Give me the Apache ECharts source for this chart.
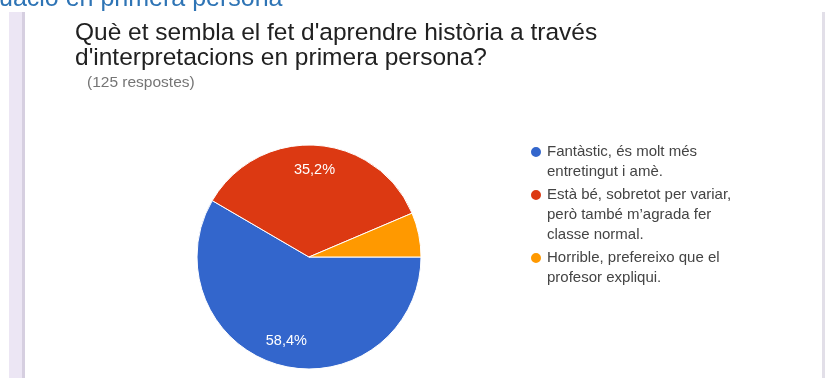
<!DOCTYPE html>
<html>
<head>
<meta charset="utf-8">
<script src="https://cdn.jsdelivr.net/npm/echarts@6/dist/echarts.min.js"></script>
<style>
  html, body { margin: 0; padding: 0; background: #fff; }
  #chart { width: 826px; height: 378px; }
</style>
</head>
<body>
<div id="chart"></div>
<script>
// respostes (125 en total)
const categories = [
  'Fantàstic, és molt més\nentretingut i amè.',
  'Està bé, sobretot per variar,\nperò també m\u2019agrada fer\nclasse normal.',
  'Horrible, prefereixo que el\nprofesor expliqui.'
]
const counts = [73, 44, 8]
const colors = ['#3366cc', '#dc3912', '#ff9900']

const pieData = categories.map((name, i) => ({ value: counts[i], name: name }))

// one legend per answer: leading blank lines keep the dot level with the first text line
const LINE_H = 20
const legends = []
let lineTop = 142
categories.forEach(name => {
  const n = name.split('\n').length
  legends.push({
    orient: 'vertical',
    left: 529,
    top: lineTop - (n - 1) * LINE_H,
    padding: 0,
    itemWidth: 12,
    itemHeight: 12,
    icon: 'circle',
    selectedMode: false,
    data: [name],
    formatter: s => '\n'.repeat(n - 1) + s,
    textStyle: { color: '#444', fontSize: 15, lineHeight: LINE_H, fontFamily: 'Liberation Sans' }
  })
  lineTop += n * LINE_H + 3
})

const chart = echarts.init(document.getElementById('chart'))
const option = {
  backgroundColor: '#fff',
  color: colors,
  animation: false,
  title: [
    {
      text: 'uació en primera persona',
      left: -1,
      top: -13,
      padding: 0,
      textStyle: { color: '#2e74b5', fontSize: 25, lineHeight: 25, fontWeight: 'normal', fontFamily: 'Liberation Sans' }
    },
    {
      text: 'Què et sembla el fet d\'aprendre història a través\nd\'interpretacions en primera persona?',
      left: 75,
      top: 21,
      padding: 0,
      textStyle: { color: '#212121', fontSize: 24.5, fontWeight: 'normal', lineHeight: 25, fontFamily: 'Liberation Sans' }
    },
    {
      text: '(125 respostes)',
      left: 87,
      top: 75,
      padding: 0,
      textStyle: { color: '#757575', fontSize: 15.5, lineHeight: 16, fontWeight: 'normal', fontFamily: 'Liberation Sans' }
    }
  ],
  legend: legends,
  graphic: [
    { type: 'rect', shape: { x: 9, y: 12, width: 14, height: 366 }, style: { fill: '#ece6f4' }, silent: true },
    { type: 'rect', shape: { x: 22, y: 12, width: 3, height: 366 }, style: { fill: '#d6cfe0' }, silent: true },
    { type: 'rect', shape: { x: 822, y: 12, width: 3, height: 366 }, style: { fill: '#e2dfe8' }, silent: true }
  ],
  series: [
    {
      name: 'respostes',
      type: 'pie',
      center: [309, 257],
      radius: [0, 112],
      startAngle: 0,
      clockwise: true,
      silent: true,
      label: { show: false },
      labelLine: { show: false },
      itemStyle: { borderColor: '#fff', borderWidth: 1 },
      data: pieData
    },
    {
      // transparent ring, only carries the percentage labels
      name: 'etiquetes',
      type: 'pie',
      center: [309, 257],
      radius: [56, 112],
      startAngle: 0,
      clockwise: true,
      silent: true,
      minShowLabelAngle: 30,
      itemStyle: { color: 'rgba(0,0,0,0)' },
      label: {
        show: true,
        position: 'inside',
        color: '#fff',
        fontSize: 14.5,
        fontFamily: 'Liberation Sans',
        formatter: p => p.percent.toFixed(1).replace('.', ',') + '%'
      },
      labelLine: { show: false },
      data: pieData
    }
  ]
}
chart.setOption(option)
</script>
</body>
</html>
